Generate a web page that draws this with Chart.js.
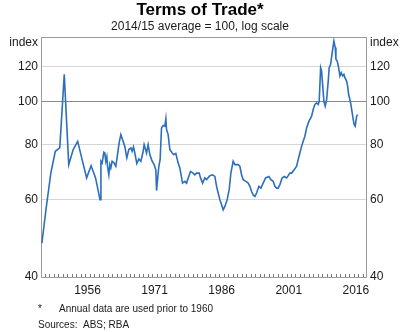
<!DOCTYPE html>
<html>
<head>
<meta charset="utf-8">
<script src="https://cdn.jsdelivr.net/npm/chart.js@4"></script>
<style>
  html, body { margin: 0; padding: 0; background: #fff; }
  #wrap { width: 400px; height: 332px; }
</style>
</head>
<body>
<div id="wrap"><canvas id="chart" width="400" height="332"></canvas></div>
<script>
// annual points before 1960, roughly quarterly after
const years = [
  1945.8, 1946.8, 1947.8, 1948.8, 1949.8, 1950.8, 1951.8, 1952.8, 1953.8, 1954.8, 1955.8, 1956.8, 1957.8, 1958.8,
  1959.0, 1959.27, 1959.65, 1959.87, 1960.09, 1960.32, 1960.47, 1960.77, 1960.99, 1961.21, 1961.5, 1961.95,
  1962.33, 1962.71, 1963.07, 1963.45, 1963.96, 1964.34, 1964.79, 1965.24, 1965.69, 1965.98, 1966.29, 1966.58,
  1967.03, 1967.48, 1967.92, 1968.37, 1968.66, 1968.98, 1969.2, 1969.56, 1969.94, 1970.45, 1970.9, 1971.28,
  1971.44, 1971.66, 1971.95, 1972.24, 1972.55, 1972.91, 1973.29, 1973.52, 1973.67, 1974.03, 1974.41, 1974.93,
  1975.31, 1975.75, 1976.27, 1976.65, 1977.25, 1977.77, 1978.15, 1978.51, 1979.04, 1979.62, 1980.0, 1980.38,
  1980.97, 1981.28, 1981.73, 1982.24, 1982.62, 1983.36, 1983.96, 1984.48, 1984.86, 1985.22, 1985.6, 1985.98,
  1986.34, 1986.72, 1987.23, 1987.68, 1988.06, 1988.57, 1988.95, 1989.69, 1990.07, 1990.45, 1990.81, 1991.41,
  1991.93, 1992.31, 1992.69, 1993.05, 1993.43, 1993.81, 1994.32, 1994.77, 1995.28, 1995.82, 1996.56, 1997.01,
  1997.52, 1997.9, 1998.28, 1998.64, 1999.02, 1999.53, 1999.98, 2000.52, 2000.88, 2001.26, 2001.64, 2002.22,
  2002.76, 2003.11, 2003.49, 2003.87, 2004.23, 2004.61, 2004.99, 2005.5, 2006.11, 2006.47, 2006.85, 2007.23,
  2007.59, 2007.81, 2008.13, 2008.35, 2008.57, 2008.86, 2009.15, 2009.47, 2009.83, 2010.05, 2010.36, 2010.72,
  2011.1, 2011.39, 2011.55, 2011.84, 2012.15, 2012.44, 2012.73, 2013.05, 2013.34, 2013.56, 2013.94, 2014.17,
  2014.39, 2014.68, 2014.9, 2015.19, 2015.42, 2015.64, 2015.86, 2016.18, 2016.4
];
const values = [
  47.7, 57.8, 68.8, 77.1, 78.5, 115.2, 71.9, 77.8, 81.2, 73.8, 67.1, 71.5, 67.1, 59.9,
  73.2, 72.5, 76.7, 76.4, 73.2, 74.9, 71.3, 68.2, 71.9, 70.7, 73.2, 72.5,
  71.3, 75.8, 80.6, 84.1, 81.2, 79.1, 74.5, 77.8, 78.5, 77.1, 78.9, 76.4,
  72.3, 74.1, 73.2, 76.4, 79.8, 77.8, 76.4, 79.8, 75.8, 73.2, 71.9, 70.0,
  62.8, 66.5, 71.3, 73.8, 87.1, 88.2, 87.9, 91.3, 86.4, 84.1, 77.8, 76.4,
  75.8, 76.2, 72.5, 70.7, 65.3, 65.9, 65.3, 67.1, 69.4, 68.8, 68.2, 68.8,
  68.8, 67.1, 65.3, 67.1, 66.5, 67.9, 68.2, 67.6, 64.2, 62.0, 59.9, 58.3,
  56.8, 57.8, 59.9, 63.1, 68.8, 73.2, 71.9, 71.9, 71.3, 68.2, 66.5, 65.9,
  65.3, 64.2, 62.5, 61.4, 60.9, 62.0, 64.2, 63.6, 65.3, 67.1, 67.6, 66.5,
  65.9, 64.2, 63.6, 63.6, 64.8, 67.1, 67.6, 67.1, 67.9, 68.8, 68.8, 70.0,
  71.3, 73.8, 76.4, 79.1, 81.2, 83.4, 87.1, 90.1, 92.6, 95.9, 98.4, 99.3,
  98.4, 100.1, 119.3, 117.2, 109.3, 100.1, 97.6, 101.0, 111.2, 119.3, 121.4, 129.0,
  137.1, 132.5, 124.6, 123.5, 119.3, 114.2, 116.2, 114.2, 115.2, 113.2, 111.2, 108.3,
  103.7, 101.0, 98.4, 94.2, 91.0, 88.6, 87.9, 92.6, 93.4
];
const yTicks = [40, 60, 80, 100, 120];
const xTicks = [1956, 1971, 1986, 2001, 2016];

const FONT = '"Liberation Sans", Arial, sans-serif';
const frameColor = '#9a9a9a';
const textColor = '#1a1a1a';

// frame, minor year ticks, titles and notes
const decor = {
  id: 'decor',
  beforeDatasetsDraw(chart) {
    const { ctx, chartArea: a } = chart;
    ctx.save();
    ctx.strokeStyle = frameColor;
    ctx.lineWidth = 1;
    ctx.strokeRect(a.left + 0.5, a.top + 0.5, a.right - a.left - 1, a.bottom - a.top);
    // yearly minor ticks along the bottom
    const xs = chart.scales.x;
    ctx.strokeStyle = '#777';
    ctx.beginPath();
    for (let yr = 1945; yr <= 2018; yr++) {
      const px = Math.round(xs.getPixelForValue(yr + 0.5)) + 0.5;
      if (px <= a.left + 1 || px >= a.right - 1) continue;
      ctx.moveTo(px, a.bottom);
      ctx.lineTo(px, a.bottom - 3);
    }
    ctx.stroke();
    ctx.restore();
  },
  afterDraw(chart) {
    const { ctx } = chart;
    ctx.save();
    ctx.fillStyle = '#000';
    ctx.textAlign = 'center';
    ctx.textBaseline = 'middle';
    ctx.font = 'bold 17px ' + FONT;
    ctx.fillText('Terms of Trade*', 200, 10);
    ctx.font = '12px ' + FONT;
    ctx.fillStyle = textColor;
    ctx.fillText('2014/15 average = 100, log scale', 200, 27);
    ctx.textAlign = 'right';
    ctx.fillText('index', 38, 43);
    ctx.textAlign = 'left';
    ctx.fillText('index', 370, 43);
    ctx.font = '10px ' + FONT;
    ctx.fillText('*', 38, 309);
    ctx.fillText('Annual data are used prior to 1960', 59, 309);
    ctx.fillText('Sources:', 38, 325);
    ctx.fillText('ABS; RBA', 83, 325);
    ctx.restore();
  }
};

const yAxis = (pos, width) => ({
  type: 'logarithmic',
  position: pos,
  min: 40,
  max: 140,
  afterBuildTicks: s => { s.ticks = yTicks.map(v => ({ value: v })); },
  afterFit: s => { s.width = width; },
  grid: {
    display: pos === 'left',
    drawTicks: false,
    color: c => (c.tick && c.tick.value === 100 ? '#8c8c8c' : '#d6d6d6'),
    lineWidth: 1
  },
  border: { display: false },
  ticks: {
    padding: 3,
    color: textColor,
    font: { family: FONT, size: 12 },
    callback: v => String(v)
  }
});

new Chart(document.getElementById('chart'), {
  type: 'line',
  data: {
    datasets: [{
      data: years.map((x, i) => ({ x: x, y: values[i] })),
      borderColor: '#2c6fbe',
      borderWidth: 1.6,
      pointRadius: 0,
      tension: 0,
      fill: false
    }]
  },
  options: {
    responsive: false,
    animation: false,
    layout: { padding: { top: 37, left: 0, right: 0, bottom: 0 } },
    plugins: { legend: { display: false }, tooltip: { enabled: false }, title: { display: false } },
    scales: {
      x: {
        type: 'linear',
        min: 1945.6,
        max: 2018.5,
        afterBuildTicks: s => { s.ticks = xTicks.map(v => ({ value: v })); },
        afterFit: s => { s.height = 55; },
        grid: { display: false, drawTicks: false },
        border: { display: false },
        ticks: {
          padding: 6,
          maxRotation: 0,
          autoSkip: false,
          color: textColor,
          font: { family: FONT, size: 12 },
          callback: v => String(v)
        }
      },
      y: yAxis('left', 41),
      y2: yAxis('right', 33)
    }
  },
  plugins: [decor]
});
</script>
</body>
</html>
